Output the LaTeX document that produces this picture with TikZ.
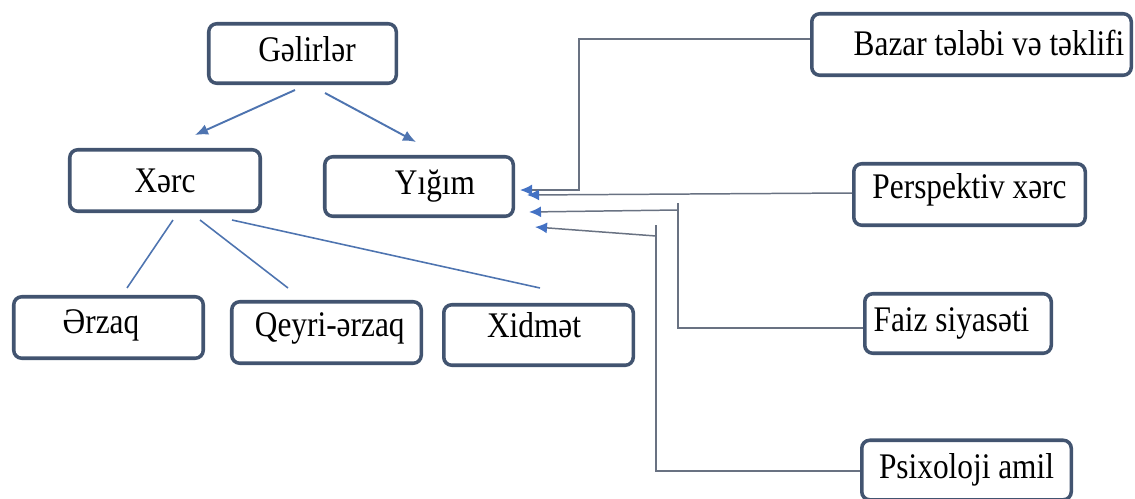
\documentclass[tikz,border=0pt]{standalone}
\usepackage{fontspec}
\setmainfont{Liberation Serif}[FakeStretch=0.87]
\usetikzlibrary{arrows.meta, positioning, calc}
\definecolor{boxedge}{RGB}{66,84,112}
\definecolor{treeblue}{RGB}{78,116,176}
\definecolor{feedgray}{RGB}{105,114,130}
\definecolor{tipblue}{RGB}{68,114,196}
\newcommand{\lift}[2]{\raisebox{#1}[\height][\depth]{#2}}

\begin{document}
\begin{tikzpicture}[
				font=\fontsize{20.5}{24}\selectfont,
				tree/.style={draw=treeblue, line width=1.1pt, -{Latex[length=2.6mm,width=2.2mm]}},
				branch/.style={draw=treeblue, line width=0.9pt},
				feed/.style={draw=feedgray, line width=0.85pt},
				tip/.style={-{Latex[length=2.4mm,width=2.2mm,color=tipblue]}}
			]
			\tikzstyle{Box} = [ %rounded frame used for every label
				draw=boxedge,
				line width=2pt,
				rounded corners=1.6mm,
				fill=white,
				text centered,
				inner xsep=1pt
			]
			\useasboundingbox (0,0) rectangle (22.7,-9.96);
			
			\node (gel) [Box, minimum width=3.75cm, minimum height=1.19cm] at (6.05,-1.07) {\hspace*{0.18cm}\lift{0.08cm}{Gəlirlər}};
			\node (xerc) [Box, minimum width=3.81cm, minimum height=1.23cm] at (3.30,-3.61) {Xərc};
			\node (yigim) [Box, minimum width=3.77cm, minimum height=1.19cm] at (8.38,-3.73) {\hspace*{0.64cm}Yığım};
			\node (erzaq) [Box, minimum width=3.79cm, minimum height=1.23cm] at (2.17,-6.55) {\lift{0.04cm}{Ərzaq}\hspace*{0.3cm}};
			\node (qeyri) [Box, minimum width=3.79cm, minimum height=1.23cm] at (6.53,-6.65) {\hspace*{0.13cm}\lift{0.08cm}{Qeyri-ərzaq}};
			\node (xidmet) [Box, minimum width=3.79cm, minimum height=1.21cm] at (10.77,-6.70) {\lift{0.2cm}{Xidmət}\hspace*{0.18cm}};
			
			\node (bazar) [Box, minimum width=6.39cm, minimum height=1.23cm] at (19.43,-0.89) {\hspace*{0.7cm}\lift{0.04cm}{Bazar tələbi və təklifi}};
			\node (persp) [Box, minimum width=4.63cm, minimum height=1.23cm] at (19.39,-3.89) {\lift{0.1cm}{Perspektiv xərc}};
			\node (faiz) [Box, minimum width=3.73cm, minimum height=1.19cm] at (19.16,-6.47) {Faiz siyasəti\hspace*{0.26cm}};
			\node (psix) [Box, minimum width=4.19cm, minimum height=1.19cm] at (19.33,-9.40) {Psixoloji amil};
			
			\draw[tree] ($(gel.south)+(-0.15,-0.1)$) -- ($(xerc.north)+(0.6,0.26)$);
			\draw[tree] ($(gel.south)+(0.45,-0.16)$) -- ($(yigim.north)+(-0.06,0.26)$);
			\draw[branch] ($(xerc.south)+(0.16,-0.14)$) -- ($(erzaq.north)+(0.37,0.14)$);
			\draw[branch] ($(xerc.south)+(0.7,-0.14)$) -- ($(qeyri.north)+(-0.77,0.24)$);
			\draw[branch] ($(xerc.south)+(1.34,-0.14)$) -- ($(xidmet.north)+(0.03,0.3)$);
			
			\draw[feed, tip] ([yshift=0.11cm]bazar.west) -- ++(-4.62,0) |- ($(yigim.east)+(0.1,-0.07)$);
			\draw[feed, tip] ([yshift=0.03cm]persp.west) -- ($(yigim.east)+(0.24,-0.17)$);
			\draw[feed] ([yshift=-0.09cm]faiz.west) -- ++(-3.7,0) coordinate (fz) -- ++(0,2.5);
			\draw[feed, tip] ($(fz)+(0,2.36)$) -- ($(yigim.east)+(0.28,-0.51)$);
			\draw[feed] ([yshift=-0.02cm]psix.west) -- ++(-4.08,0) coordinate (ps) -- ++(0,4.92);
			\draw[feed, tip] ($(ps)+(0,4.7)$) -- ($(yigim.east)+(0.4,-0.81)$);
		\end{tikzpicture}
\end{document}
